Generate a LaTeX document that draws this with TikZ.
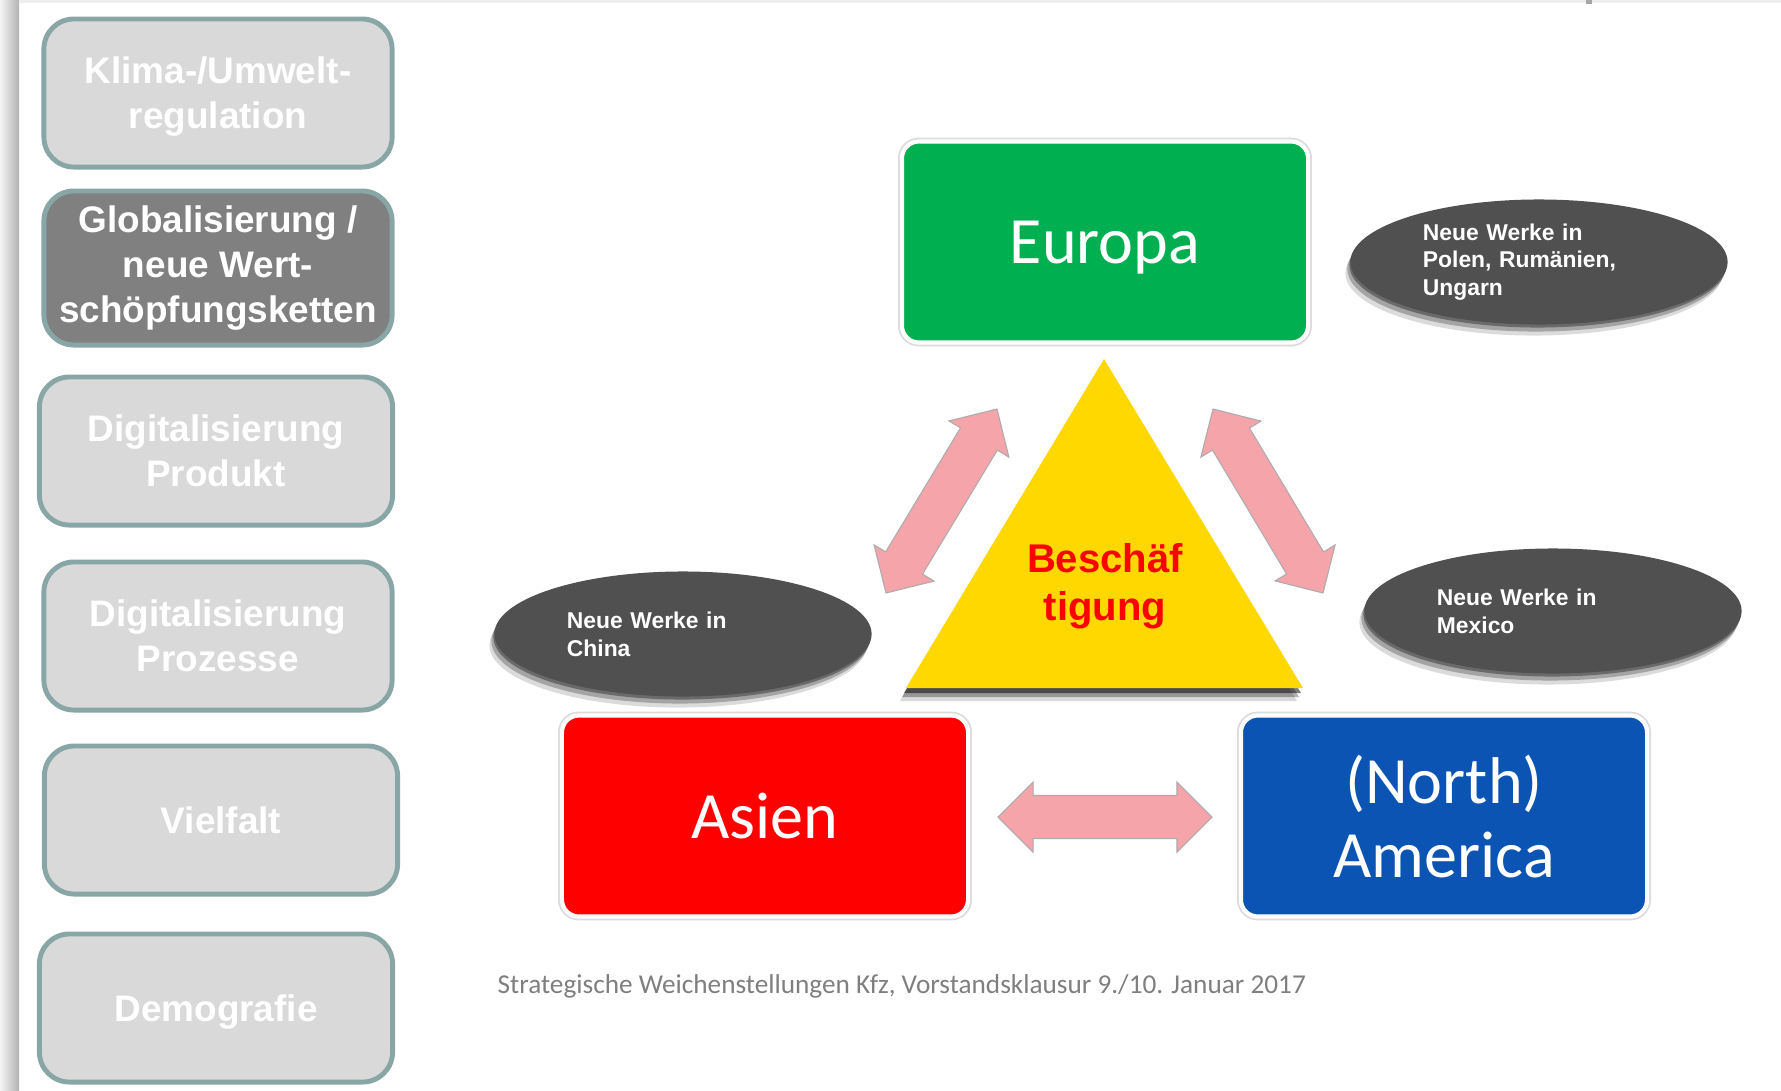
\documentclass[tikz,border=0pt]{standalone}
\usepackage{fontspec}
\setmainfont{Carlito}
\newfontfamily\arialfont{Liberation Sans}
\usepackage{tikz}
\usetikzlibrary{calc,positioning,shapes.geometric,shadows}
\definecolor{topicfill}{RGB}{217,217,217}
\definecolor{topicdark}{RGB}{128,128,128}
\definecolor{topicrim}{RGB}{136,166,166}
\definecolor{eurogreen}{RGB}{0,176,80}
\definecolor{asiared}{RGB}{255,0,0}
\definecolor{amerblue}{RGB}{11,84,180}
\definecolor{plantgray}{RGB}{80,80,80}
\definecolor{trigold}{RGB}{255,216,0}
\definecolor{arrowpink}{RGB}{245,164,170}
\definecolor{footgray}{RGB}{127,127,127}
\tikzstyle{topic}=[draw=topicrim,line width=1.4pt,fill=topicfill,rounded corners=0.3cm,minimum width=3.48cm,minimum height=1.48cm,text=white,align=center,text depth=0pt,font=\arialfont\bfseries\fontsize{10.5}{12.8}\selectfont]
\tikzstyle{region}=[rounded corners=0.17cm,minimum width=4.06cm,minimum height=2.01cm,draw=white,line width=1.2pt,preaction={draw=black!14,line width=2.2pt},text=white,align=center,text depth=0pt,font=\fontsize{18.8}{21}\selectfont]
\tikzstyle{softshadow}=[drop shadow={shadow xshift=-0.01cm,shadow yshift=-0.03cm,opacity=0.35,fill=black},
  drop shadow={shadow xshift=-0.03cm,shadow yshift=-0.07cm,opacity=0.25,fill=black},
  drop shadow={shadow xshift=-0.05cm,shadow yshift=-0.11cm,opacity=0.14,fill=black}]
\tikzstyle{plant}=[ellipse,fill=plantgray,inner sep=0pt,minimum width=3.77cm,minimum height=1.25cm,text width=2.32cm,align=left,text=white,font=\arialfont\bfseries\fontsize{6.5}{7.9}\selectfont,softshadow]
\tikzstyle{pinkarrow}=[fill=arrowpink,draw=gray!65,line width=0.3pt,line join=miter]
% fat double arrow between two named coordinates
\newcommand*{\fatarrow}[2]{%
  \path ($(#1)!0.35cm!(#2)$) coordinate (#1-h) ($(#2)!0.35cm!(#1)$) coordinate (#2-h);
  \draw[pinkarrow] (#1) -- ($(#1-h)!0.35cm!90:(#2)$) -- ($(#1-h)!0.215cm!90:(#2)$)
    -- ($(#2-h)!0.215cm!-90:(#1)$) -- ($(#2-h)!0.35cm!-90:(#1)$) -- (#2)
    -- ($(#2-h)!0.35cm!90:(#1)$) -- ($(#2-h)!0.215cm!90:(#1)$)
    -- ($(#1-h)!0.215cm!-90:(#2)$) -- ($(#1-h)!0.35cm!-90:(#2)$) -- cycle;}

\begin{document}
\begin{tikzpicture}[x=0.01cm,y=-0.01cm]
            \useasboundingbox (0,0) rectangle (1781,1090);
            \fill[white] (0,0) rectangle (1781,1090);
            % slide edge
            \shade[left color=gray!8,right color=gray!60] (0,0) rectangle (19,1090);
            \fill[gray!13] (19,0) rectangle (1781,3);
            \fill[gray!70] (1586,0) rectangle (1592,4);
            % topics
            \node[topic] (klima) at (218,93) {Klima-/Umwelt-\\regulation};
            \node[topic,fill=topicdark,minimum height=1.54cm,text depth=] (global) at (218,268) {Globalisierung /\\neue Wert-\\schöpfungsketten};
            \node[topic,minimum width=3.53cm] (digprod) at (216,451) {Digitalisierung\\Produkt};
            \node[topic] (digproz) at (218,636) {Digitalisierung\\Prozesse};
            \node[topic,minimum width=3.53cm] (vielfalt) at (221,820) {Vielfalt};
            \node[topic,minimum width=3.53cm] (demo) at (216,1008) {Demografie};
            % regions
            \node[region,fill=eurogreen] (europa) at (1105,242) {Europa};
            \node[region,fill=asiared] (asien) at (765,816) {Asien};
            \node[region,fill=amerblue] (america) at (1444,816) {(North)\\America};
            % triangle
            \coordinate (tritop) at (1104,359);
            \coordinate (trileft) at (906,688);
            \coordinate (triright) at (1303,688);
            \fill[trigold,drop shadow={shadow xshift=-0.02cm,shadow yshift=-0.05cm,opacity=0.5,fill=black},
              drop shadow={shadow xshift=-0.04cm,shadow yshift=-0.09cm,opacity=0.3,fill=black},
              drop shadow={shadow xshift=-0.06cm,shadow yshift=-0.13cm,opacity=0.15,fill=black}]
              (tritop) -- (trileft) -- (triright) -- cycle;
            \node[text=red,align=center,text depth=0pt,font=\arialfont\bfseries\fontsize{11.4}{13.9}\selectfont] (besch) at (1105,582) {Beschäf\\tigung};
            % new plants
            \node[plant] (polen) at (1539,262) {Neue Werke in\\Polen, Rumänien,\\Ungarn};
            \node[plant] (china) at (683,634) {Neue Werke in\\China};
            \node[plant] (mexico) at (1553,611) {Neue Werke in\\Mexico};
            % links
            \coordinate (ea1) at (886,593);
            \coordinate (ea2) at (997,409);
            \coordinate (em1) at (1213,409);
            \coordinate (em2) at (1323,593);
            \coordinate (am1) at (998,817);
            \coordinate (am2) at (1212,817);
            \fatarrow{ea1}{ea2}
            \fatarrow{em1}{em2}
            \fatarrow{am1}{am2}
            \node[anchor=west,inner sep=0pt,text=footgray,font=\fontsize{7.75}{9}\selectfont] (foot) at (497,986) {Strategische Weichenstellungen Kfz, Vorstandsklausur 9./10. Januar 2017};
        \end{tikzpicture}
\end{document}
